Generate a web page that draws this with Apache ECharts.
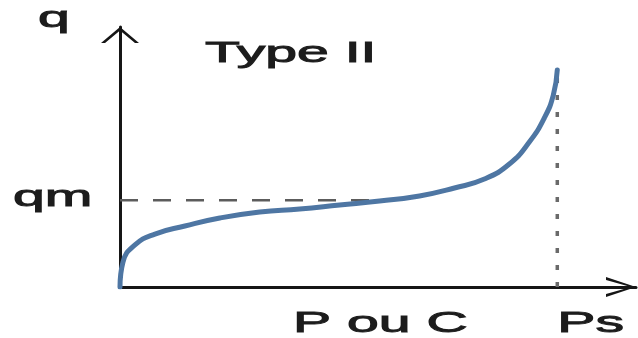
<!DOCTYPE html>
<html>
<head>
<meta charset="utf-8">
<script src="https://cdn.jsdelivr.net/npm/echarts@6/dist/echarts.min.js"></script>
<style>
  html, body { margin: 0; padding: 0; background: #ffffff; }
  #chart { width: 638px; height: 338px; }
</style>
</head>
<body>
<div id="chart"></div>
<script>
// Type II adsorption isotherm: amount adsorbed q against P/Ps
const relPressure = [0, 0.0068, 0.0342, 0.0799, 0.1484, 0.2283, 0.3196, 0.4110, 0.5023, 0.5936, 0.6849, 0.7648, 0.8333, 0.8904, 0.9361, 0.9703, 0.9909, 1.0];
const uptake      = [0, 0.288, 0.485, 0.611, 0.704, 0.796, 0.865, 0.900, 0.946, 0.992, 1.050, 1.142, 1.246, 1.419, 1.673, 1.950, 2.215, 2.504];

// monolayer capacity guide (qm) and saturation pressure guide (Ps)
const qmGuideX = [0, 0.6];
const qmGuideY = [1, 1];
const psGuideX = [1, 1];
const psGuideY = [0, 2.504];

// axis and guide labels
const axisTitleY = 'q';
const axisTitleX = 'P ou C';
const chartTitle = 'Type II';
const qmLabel = 'qm';
const psLabel = 'Ps';

const toPairs = (xs, ys) => xs.map((x, i) => [x, ys[i]]);

const chart = echarts.init(document.getElementById('chart'), null, { renderer: 'canvas' });

const axisColor = '#161616';
const textFont = '29px "Liberation Sans", Arial, sans-serif';
const stretch = 1.97;

function stretchedText(text, x, y) {
  return {
    type: 'text',
    x: x,
    y: y,
    scaleX: stretch,
    style: {
      text: text,
      font: textFont,
      fill: '#1c1c1c',
      stroke: '#1c1c1c',
      lineWidth: 0.9,
      align: 'left',
      verticalAlign: 'middle'
    },
    silent: true
  };
}

chart.setOption({
  animation: false,
  grid: { left: 120, right: 2, top: 27, bottom: 51 },
  xAxis: {
    type: 'value',
    min: 0,
    max: 1.18,
    axisLine: {
      show: true,
      onZero: false,
      symbol: ['none', 'path://M0,30 L10,0 L20,30 L17,30 L10,5 L3,30 Z'],
      symbolSize: [20, 30],
      symbolOffset: [0, -15],
      lineStyle: { color: axisColor, width: 3 }
    },
    axisTick: { show: false },
    axisLabel: { show: false },
    splitLine: { show: false }
  },
  yAxis: {
    type: 'value',
    min: 0,
    max: 3,
    axisLine: {
      show: true,
      onZero: false,
      symbol: ['none', 'path://M0,16 L19,0 L38,16 L34,16 L19,3.5 L4,16 Z'],
      symbolSize: [38, 16],
      symbolOffset: [0, -8],
      lineStyle: { color: axisColor, width: 3 }
    },
    axisTick: { show: false },
    axisLabel: { show: false },
    splitLine: { show: false }
  },
  series: [
    {
      name: 'qm',
      type: 'line',
      data: toPairs(qmGuideX, qmGuideY),
      symbol: 'none',
      silent: true,
      z: 1,
      lineStyle: { color: '#5c5c5c', width: 2.5, type: [18, 15] }
    },
    {
      name: 'Ps',
      type: 'line',
      data: toPairs(psGuideX, psGuideY),
      symbol: 'none',
      silent: true,
      z: 1,
      lineStyle: { color: '#6a6a6a', width: 3.5, type: [5, 12] }
    },
    {
      name: 'isotherme',
      type: 'line',
      data: toPairs(relPressure, uptake),
      symbol: 'none',
      smooth: 0.5,
      silent: true,
      z: 3,
      lineStyle: { color: '#4e76a3', width: 5, cap: 'round' }
    }
  ]
});

// place the text labels from the axes' own scales
const qmPx = chart.convertToPixel({ gridIndex: 0 }, [0, qmGuideY[0]]);
const psPx = chart.convertToPixel({ gridIndex: 0 }, [psGuideX[0], 0]);
const originPx = chart.convertToPixel({ gridIndex: 0 }, [0, 0]);

chart.setOption({
  graphic: [
    stretchedText(axisTitleY, 38, 19),
    stretchedText(chartTitle, 205, 54),
    stretchedText(qmLabel, 13, qmPx[1] - 2),
    stretchedText(axisTitleX, 293, originPx[1] + 37),
    stretchedText(psLabel, psPx[0], originPx[1] + 37)
  ]
});
</script>
</body>
</html>
